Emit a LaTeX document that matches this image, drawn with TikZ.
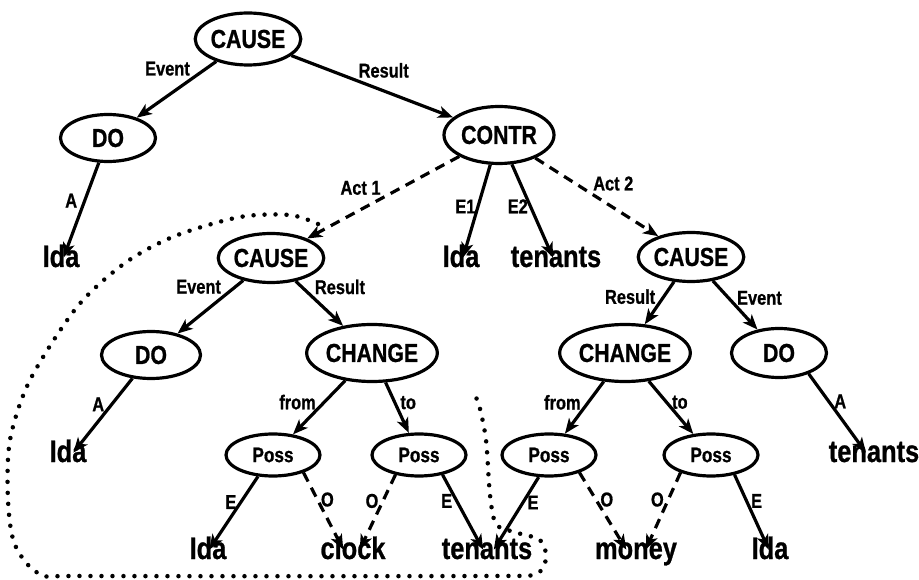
\documentclass[tikz,border=0pt]{standalone}
\usepackage{fontspec}
\newfontfamily\condfont[FakeStretch=0.82,FakeBold=0.8]{Liberation Sans}
\usetikzlibrary{shapes.geometric,arrows.meta}

\begin{document}
\begin{tikzpicture}[x=1pt,y=1pt,
  rel/.style={ellipse,draw,line width=3.2pt,inner sep=0pt,minimum width=95pt,minimum height=49pt,
    font=\condfont\bfseries\fontsize{26}{26}\selectfont},
  wide/.style={rel,minimum width=110pt,minimum height=57pt},
  poss/.style={rel,minimum width=94pt,minimum height=42pt,font=\condfont\bfseries\fontsize{21}{21}\selectfont},
  word/.style={anchor=base,inner sep=2pt,text height=0.72em,text depth=0.2em,
    font=\condfont\bfseries\fontsize{31}{31}\selectfont},
  lbl/.style={inner sep=1pt,font=\condfont\bfseries\fontsize{20}{20}\selectfont},
  link/.style={-{Stealth[length=15pt,width=12pt,inset=4pt]},line width=3.2pt},
  dlink/.style={link,dash pattern=on 10pt off 7pt},
  loopdots/.style={line width=4.5pt,line cap=round,dash pattern=on 0pt off 11pt}]
\useasboundingbox (0,0) rectangle (919,579);

% top levels
\node[rel,minimum height=52pt] (c0) at (248,540) {CAUSE};
\node[rel,minimum height=47pt] (do1) at (108,441) {DO};
\node[wide] (contr) at (499,444) {CONTR};
\node[word] (ida1) at (61,312) {Ida};
\node[rel] (c1) at (271,321) {CAUSE};
\node[word] (ida2) at (461,312) {Ida};
\node[word] (ten1) at (556,312) {tenants};
\node[rel] (c2) at (691,322) {CAUSE};

% middle
\node[rel,minimum width=99pt,minimum height=47pt] (do2) at (151,224) {DO};
\node[wide] (ch1) at (372,226) {CHANGE};
\node[wide] (ch2) at (625,226) {CHANGE};
\node[rel] (do3) at (779,226) {DO};
\node[word] (ida3) at (68,117) {Ida};
\node[word] (ten2) at (874,117) {tenants};
\node[poss] (p1) at (273,124) {Poss};
\node[poss] (p2) at (419,124) {Poss};
\node[poss] (p3) at (549,124) {Poss};
\node[poss] (p4) at (711,124) {Poss};

% bottom
\node[word] (ida4) at (208,20) {Ida};
\node[word] (clock) at (353,20) {clock};
\node[word] (ten3) at (487,20) {tenants};
\node[word] (money) at (636,20) {money};
\node[word] (ida5) at (770,20) {Ida};

\draw[link] (c0) -- node[lbl,pos=.3,above left] {Event} (do1);
\draw[link] (c0) -- node[lbl,pos=.4,above right] {Result} (contr);
\draw[link] (do1) -- node[lbl,pos=.4,left=5pt] {A} (ida1);
\draw[dlink] (contr) -- node[lbl,pos=.5,above left] {Act 1} (c1);
\draw[link] (contr) -- node[lbl,pos=.45,left] {E1} (ida2);
\draw[link] (contr) -- node[lbl,pos=.45,left] {E2} (ten1);
\draw[dlink] (contr) -- node[lbl,pos=.45,above right] {Act 2} (c2);

\draw[link] (c1) -- node[lbl,pos=.3,above left] {Event} (do2);
\draw[link] (c1) -- node[lbl,pos=.35,above right] {Result} (ch1);
\draw[link] (do2) -- node[lbl,pos=.35,left=5pt] {A} (ida3);
\draw[link] (ch1) -- node[lbl,pos=.4,left=6pt] {from} (p1);
\draw[link] (ch1) -- node[lbl,pos=.4,right=3pt] {to} (p2);
\draw[link] (c2) -- node[lbl,pos=.35,left=6pt] {Result} (ch2);
\draw[link] (c2) -- node[lbl,pos=.35,right=6pt] {Event} (do3);
\draw[link] (ch2) -- node[lbl,pos=.4,left=5pt] {from} (p3);
\draw[link] (ch2) -- node[lbl,pos=.4,right=3pt] {to} (p4);
\draw[link] (do3.-35) -- node[lbl,pos=.35,right=3pt] {A} (ten2.140);

\draw[link] (p1.-125) -- node[lbl,pos=.35,left=2pt] {E} (ida4.80);
\draw[dlink] (p1.-30) -- node[lbl,pos=.35,right=1pt] {O} (clock.145);
\draw[dlink] (p2.-140) -- node[lbl,pos=.35,left=2pt] {O} (clock.45);
\draw[link] (p2.-40) -- node[lbl,pos=.35,left=2pt] {E} (ten3.120);
\draw[link] (p3.-115) -- node[lbl,pos=.35,right=2pt] {E} (ten3.45);
\draw[dlink] (p3.-30) -- node[lbl,pos=.35,right=2pt] {O} (money.145);
\draw[dlink] (p4.-150) -- node[lbl,pos=.35,left=2pt] {O} (money.35);
\draw[link] (p4.-40) -- node[lbl,pos=.35,right=2pt] {E} (ida5.100);

% dotted boundary
\draw[loopdots] plot[smooth,tension=.5] coordinates {(318,355) (290,364) (240,362) (175,343)
  (125,316) (77,272) (30,199) (10,139) (8,79) (15,34) (40,5) (90,3) (480,3) (535,5)
  (546,21) (540,39) (514,47) (496,55) (490,84) (486,139) (479,174) (472,189)};
\end{tikzpicture}
\end{document}
